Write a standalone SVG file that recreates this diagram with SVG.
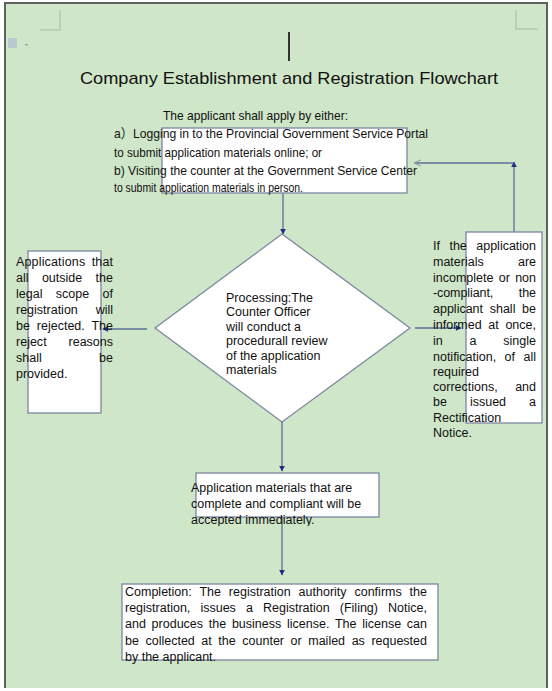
<svg xmlns="http://www.w3.org/2000/svg" width="552" height="691" viewBox="0 0 552 691">
<defs>
<style>
.t{font-family:"Liberation Sans",Arial,"Noto Sans CJK SC",sans-serif;fill:#111;}
.b{font-size:12.5px;}
.n{font-size:13px;}
.box{fill:#fff;stroke:#7c879f;stroke-width:1.3;}
.con{fill:none;stroke:#5d6f98;stroke-width:1.3;}
.mark{fill:none;stroke:#b4c9ae;stroke-width:1.5;}
</style>
<marker id="ah" viewBox="0 0 10 10" refX="9" refY="5" markerWidth="6" markerHeight="6" orient="auto" markerUnits="userSpaceOnUse">
<path d="M0,0 L10,5 L0,10 z" fill="#1f2d86"/>
</marker>
<marker id="ag" viewBox="0 0 10 10" refX="9" refY="5" markerWidth="8" markerHeight="8" orient="auto" markerUnits="userSpaceOnUse">
<path d="M0,1 L9,5 L0,9" fill="none" stroke="#8d96a8" stroke-width="1.2"/>
</marker>
<clipPath id="accClip"><rect x="180" y="470" width="220" height="56"/></clipPath>
</defs>

<rect x="0" y="0" width="552" height="691" fill="#ffffff"/>
<rect x="5" y="3" width="542" height="685" fill="#cfe6c9"/>
<path d="M4,3 H548 M5,3 V688 M547,3 V688" fill="none" stroke="#5f615f" stroke-width="2"/>
<path class="mark" d="M60,10 V30 H40 M516,10 V29 H538"/>
<rect x="8" y="38" width="9" height="10" fill="#b9c9cf"/>
<rect x="25" y="44" width="3" height="1.5" fill="#9aa"/>
<rect x="288" y="32" width="2" height="29" fill="#333"/>

<text class="t" x="289" y="84" font-size="17" text-anchor="middle" textLength="418" lengthAdjust="spacingAndGlyphs">Company Establishment and Registration Flowchart</text>

<g id="connectors">
<path class="con" d="M283,193 V234" marker-end="url(#ah)"/>
<path class="con" d="M147,329 H103" marker-end="url(#ah)"/>
<path class="con" d="M415,328 H461" marker-end="url(#ah)"/>
<path class="con" d="M514,232 V162" marker-end="url(#ah)"/>
<path class="con" stroke="#8d96a8" d="M514,163 H414" marker-end="url(#ag)"/>
<path class="con" d="M282,422 V471" marker-end="url(#ah)"/>
<path class="con" d="M282,517 V575" marker-end="url(#ah)"/>
</g>

<g id="apply">
<rect class="box" x="162" y="128" width="245" height="65"/>
<text class="t n" x="163" y="120" textLength="185" lengthAdjust="spacingAndGlyphs">The applicant shall apply by either:</text>
<text class="t n" x="114" y="138" textLength="314" lengthAdjust="spacingAndGlyphs">a）Logging in to the Provincial Government Service Portal</text>
<text class="t n" x="114" y="157" textLength="208" lengthAdjust="spacingAndGlyphs">to submit application materials online; or</text>
<text class="t n" x="114" y="175" textLength="303" lengthAdjust="spacingAndGlyphs">b) Visiting the counter at the Government Service Center</text>
<text class="t n" x="114" y="192" textLength="189" lengthAdjust="spacingAndGlyphs">to submit application materials in person.</text>
</g>

<g id="processing">
<polygon class="box" points="282,234 410,328 282,422 155,328"/>
<text class="t b" x="226" y="302">Processing:The</text>
<text class="t b" x="226" y="316">Counter Officer</text>
<text class="t b" x="226" y="331">will conduct a</text>
<text class="t b" x="226" y="345">procedurall review</text>
<text class="t b" x="226" y="360">of the application</text>
<text class="t b" x="226" y="374">materials</text>
</g>

<g id="reject">
<rect class="box" x="28" y="251" width="73" height="162"/>
<text class="t b" x="16" y="266" word-spacing="2.7" textLength="97" lengthAdjust="spacing">Applications that</text>
<text class="t b" x="16" y="282" word-spacing="9.9" textLength="97" lengthAdjust="spacing">all outside the</text>
<text class="t b" x="16" y="298" word-spacing="9.9" textLength="97" lengthAdjust="spacing">legal scope of</text>
<text class="t b" x="16" y="314" word-spacing="14.4" textLength="97" lengthAdjust="spacing">registration will</text>
<text class="t b" x="16" y="330" word-spacing="3.4" textLength="97" lengthAdjust="spacing">be rejected. The</text>
<text class="t b" x="16" y="346" word-spacing="18.4" textLength="97" lengthAdjust="spacing">reject reasons</text>
<text class="t b" x="16" y="362" word-spacing="53.9" textLength="97" lengthAdjust="spacing">shall be</text>
<text class="t b" x="16" y="378">provided.</text>
</g>

<g id="rectify">
<rect class="box" x="466" y="232" width="76" height="191"/>
<text class="t b" x="433" y="250" word-spacing="6" textLength="103" lengthAdjust="spacing">If the application</text>
<text class="t b" x="433" y="266" word-spacing="30.7" textLength="103" lengthAdjust="spacing">materials are</text>
<text class="t b" x="433" y="282" word-spacing="1.8" textLength="103" lengthAdjust="spacing">incomplete or non</text>
<text class="t b" x="433" y="297" word-spacing="22.2" textLength="103" lengthAdjust="spacing">-compliant, the</text>
<text class="t b" x="433" y="313" word-spacing="3.2" textLength="103" lengthAdjust="spacing">applicant shall be</text>
<text class="t b" x="433" y="329" word-spacing="3.2" textLength="103" lengthAdjust="spacing">informed at once,</text>
<text class="t b" x="433" y="345" word-spacing="23.35" textLength="103" lengthAdjust="spacing">in a single</text>
<text class="t b" x="433" y="361" word-spacing="5" textLength="103" lengthAdjust="spacing">notification, of all</text>
<text class="t b" x="433" y="376">required</text>
<text class="t b" x="433" y="391" word-spacing="14" textLength="103" lengthAdjust="spacing">corrections, and</text>
<text class="t b" x="433" y="406" word-spacing="19.5" textLength="103" lengthAdjust="spacing">be issued a</text>
<text class="t b" x="433" y="422">Rectification</text>
<text class="t b" x="433" y="437">Notice.</text>
</g>

<g id="accept">
<rect class="box" x="196" y="473" width="183" height="44"/>
<g clip-path="url(#accClip)">
<text class="t b" x="191" y="492">Application materials that are</text>
<text class="t b" x="191" y="508">complete and compliant will be</text>
<text class="t b" x="191" y="524">accepted immediately.</text>
</g>
</g>

<g id="completion">
<rect class="box" x="122" y="584" width="316" height="76"/>
<text class="t b" x="125" y="596" word-spacing="4.4" textLength="302" lengthAdjust="spacing">Completion: The registration authority confirms the</text>
<text class="t b" x="125" y="612" word-spacing="6.6" textLength="302" lengthAdjust="spacing">registration, issues a Registration (Filing) Notice,</text>
<text class="t b" x="125" y="628" word-spacing="2.25" textLength="302" lengthAdjust="spacing">and produces the business license. The license can</text>
<text class="t b" x="125" y="645" word-spacing="3.1" textLength="302" lengthAdjust="spacing">be collected at the counter or mailed as requested</text>
<text class="t b" x="125" y="661">by the applicant.</text>
</g>
</svg>
